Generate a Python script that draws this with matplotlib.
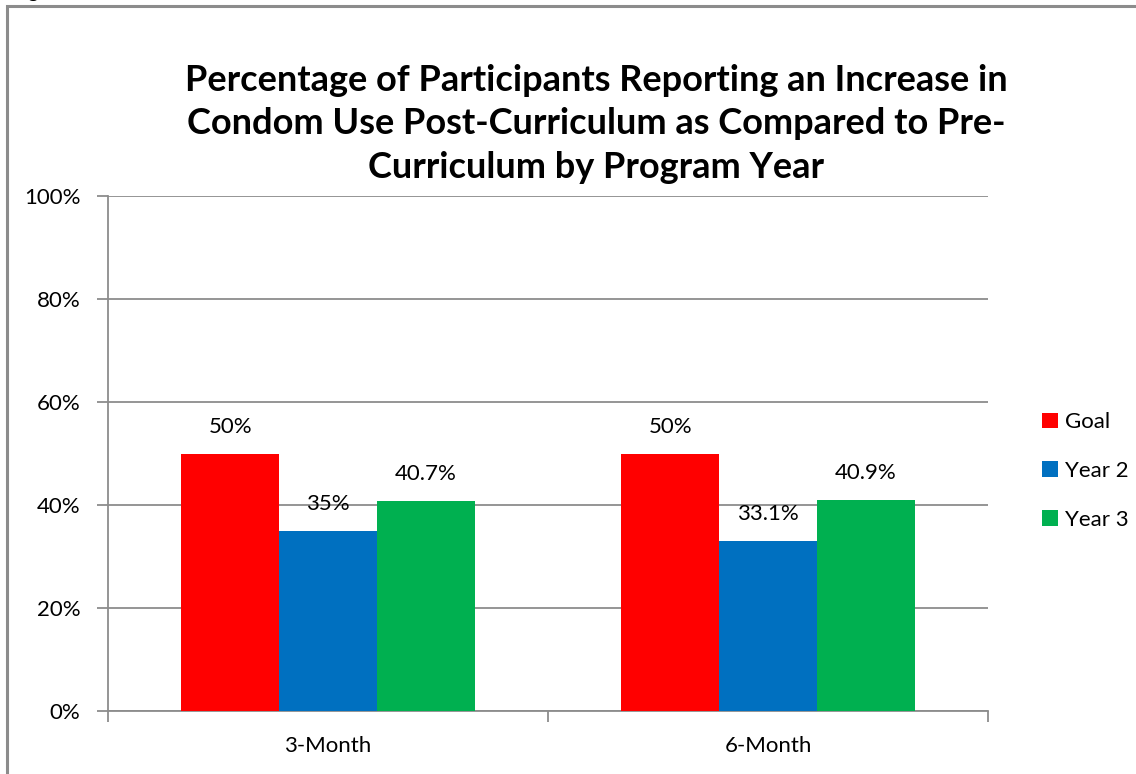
import numpy as np
import matplotlib
matplotlib.use("Agg")
from matplotlib import pyplot as plt
from matplotlib.patches import Rectangle

plt.rcParams['font.family'] = ['Lato', 'DejaVu Sans']

categories = ['3-Month', '6-Month']
series_names = ['Goal', 'Year 2', 'Year 3']
goal = [50, 50]
year2 = [35, 33.1]
year3 = [40.7, 40.9]
value_labels = [['50%', '50%'], ['35%', '33.1%'], ['40.7%', '40.9%']]
colors = ['#FF0000', '#0070C0', '#00B050']
yticks = [0, 20, 40, 60, 80, 100]

W, H = 1136, 774
fs = 16
fig = plt.figure(figsize=(W / 100, H / 100), dpi=100)

# frame around chart (cut off at right/bottom like the screenshot)
fig.patches.append(Rectangle((7 / W, -0.01), 1.02, 1 - 6 / H + 0.01, transform=fig.transFigure,
                             fill=False, edgecolor='#8c8c8c', linewidth=2.2))
fig.text(33 / W, 1 + 9 / H, 'g', fontsize=15, ha='center', va='center')

ax = fig.add_axes([108 / W, 1 - 711 / H, 880 / W, 515 / H])

x = np.arange(len(categories))
bw = 0.222
allvals = [goal, year2, year3]
for i, vals in enumerate(allvals):
    pos = x + (i - 1) * bw
    ax.bar(pos, vals, bw, color=colors[i], label=series_names[i], zorder=3)
    for p, v, lab in zip(pos, vals, value_labels[i]):
        ax.text(p, v + 3.3, lab, ha='center', va='bottom', fontsize=fs, zorder=4)

ax.set_xlim(-0.5, 1.5)
ax.set_ylim(0, 100)
ax.set_yticks(yticks)
ax.set_yticklabels([f'{t}%' for t in yticks], fontsize=fs)
ax.yaxis.grid(True, color='#8c8c8c', linewidth=1.3, zorder=0)
ax.set_xticks([-0.5, 0.5, 1.5])
ax.set_xticklabels([])
ax.set_xticks(x, minor=True)
ax.set_xticklabels(categories, minor=True, fontsize=fs)
ax.tick_params(axis='x', which='minor', length=0, pad=18)
ax.tick_params(axis='x', which='major', length=8, color='#8c8c8c', width=1.3)
ax.tick_params(axis='y', length=8, color='#8c8c8c', width=1.3, pad=12)
for s in ['top', 'right']:
    ax.spines[s].set_visible(False)
for s in ['left', 'bottom']:
    ax.spines[s].set_color('#8c8c8c')
    ax.spines[s].set_linewidth(1.3)

fig.text(596 / W, 1 - 124 / H,
         'Percentage of Participants Reporting an Increase in\n'
         'Condom Use Post-Curriculum as Compared to Pre-\n'
         'Curriculum by Program Year',
         ha='center', va='center', fontsize=26, fontweight='bold', linespacing=1.38)

leg = ax.legend(loc='center left', bbox_to_anchor=(1022 / W, 1 - 471 / H),
                bbox_transform=fig.transFigure, frameon=False, fontsize=fs,
                handlelength=0.7, handleheight=0.7, handletextpad=0.35, labelspacing=1.3)

fig.savefig('out.png', dpi=100)
